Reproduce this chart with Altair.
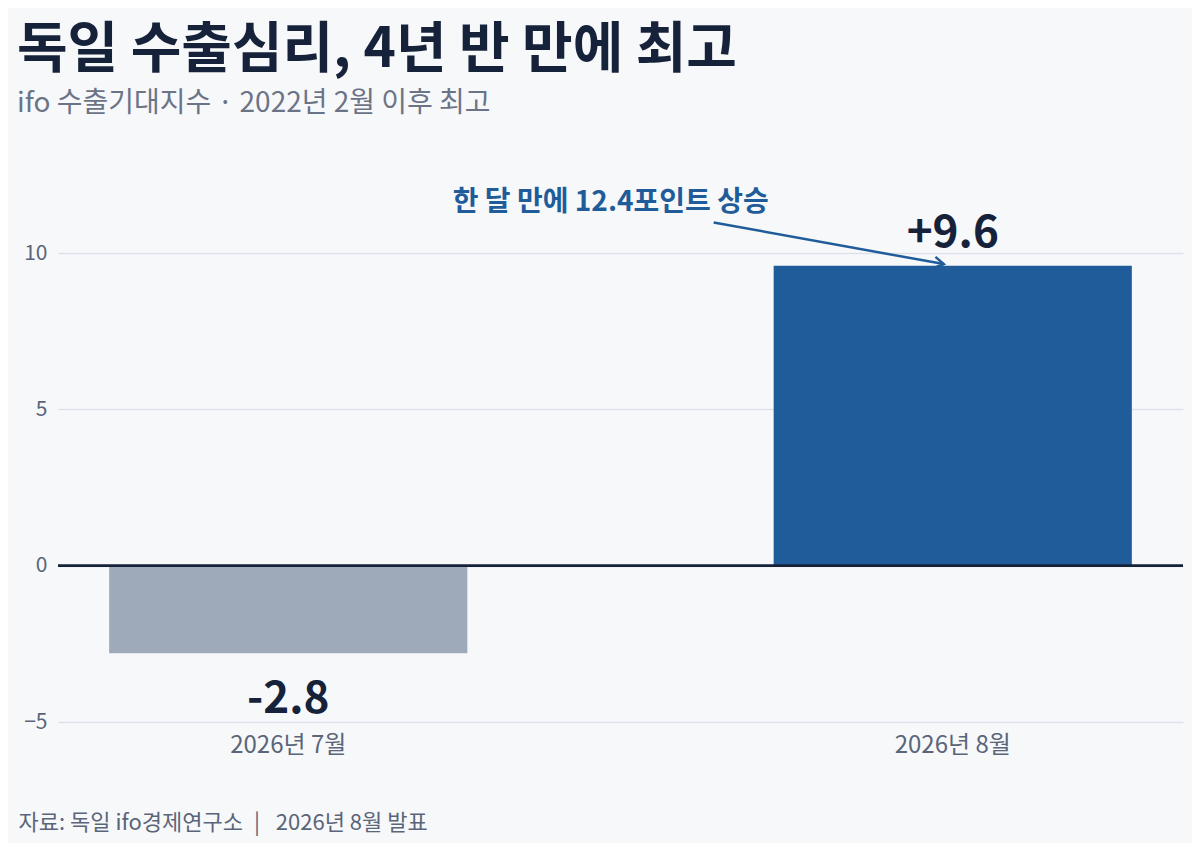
import altair as alt
import pandas as pd

# data
months = ["2026년 7월", "2026년 8월"]
values = [-2.8, 9.6]
value_labels = ["-2.8", "+9.6"]
bar_colors = ["#9ea9b9", "#1f5c99"]

anno_text = "한 달 만에 12.4포인트 상승"
anno_month = "2026년 8월"
anno_y = 11.6
arrow_from_y = 10.98
arrow_to_y = 9.65

FONT = "Noto Sans CJK KR"
NAVY = "#16223a"
GREY = "#5b6579"
BLUE = "#1f5c99"

df = pd.DataFrame({"month": months, "value": values, "label": value_labels})
anno_df = pd.DataFrame({
    "month": [anno_month], "month2": [anno_month], "text": [anno_text],
    "y": [anno_y], "y1": [arrow_from_y], "y2": [arrow_to_y],
})

x_enc = alt.X(
    "month:N",
    sort=months,
    scale=alt.Scale(paddingInner=0.461, paddingOuter=0.077),
    axis=alt.Axis(
        title="자료: 독일 ifo경제연구소\u2002|\u2002 2026년 8월 발표",
        titleFont=FONT, titleFontSize=22, titleFontWeight="normal", titleColor=GREY,
        titleAnchor="start", titleAlign="left", titleBaseline="middle",
        titleX=-40, titleY=100,
        labelFont=FONT, labelFontSize=24, labelColor=GREY, labelPadding=11,
        labelAngle=0, ticks=False, domain=False, grid=False,
    ),
)
y_scale = alt.Scale(domain=[-5, 12.5], nice=False)

base = alt.Chart(df)

bars = base.mark_bar().encode(
    x=x_enc,
    y=alt.Y(
        "value:Q",
        scale=y_scale,
        title=None,
        axis=alt.Axis(
            values=[-5, 0, 5, 10], labelFont=FONT, labelFontSize=21, labelColor=GREY,
            labelPadding=11, ticks=False, domain=False, gridColor="#dde1e9", gridWidth=1.5,
        ),
    ),
    color=alt.Color("month:N", scale=alt.Scale(domain=months, range=bar_colors), legend=None),
)

zero = base.mark_rule(color=NAVY, strokeWidth=2.5).encode(y=alt.datum(0))

pos_lbl = base.transform_filter("datum.value > 0").mark_text(
    font=FONT, fontSize=44, fontWeight="bold", color=NAVY, baseline="alphabetic", dy=-19
).encode(x=alt.X("month:N", sort=months), y="value:Q", text="label:N")

neg_lbl = base.transform_filter("datum.value < 0").mark_text(
    font=FONT, fontSize=44, fontWeight="bold", color=NAVY, baseline="alphabetic", dy=60
).encode(x=alt.X("month:N", sort=months), y="value:Q", text="label:N")

anno = alt.Chart(anno_df)
anno_txt = anno.mark_text(
    font=FONT, fontSize=28, fontWeight="bold", color=BLUE, align="right", baseline="middle", dx=-5
).encode(x=alt.X("month:N", bandPosition=0), y="y:Q", text="text:N")

# arrow starts a bit left of the August band, ends on the bar top
arrow = anno.mark_rule(color=BLUE, strokeWidth=2.5, xOffset=-60).encode(
    x=alt.X("month:N", bandPosition=0),
    x2=alt.X2("month2:N", bandPosition=0.475),
    y="y1:Q",
    y2="y2:Q",
)

head = anno.mark_point(
    shape="M-1,-0.6L0,0L-1,0.6", filled=False, color=BLUE, strokeWidth=2.5,
    size=360, angle=10, opacity=1,
).encode(x=alt.X("month:N", bandPosition=0.475), y="y2:Q")

chart = alt.layer(bars, zero, pos_lbl, neg_lbl, arrow, head, anno_txt).properties(
    width=1125,
    height=547,
    padding={"left": 9, "top": 15, "right": 7, "bottom": 10},
    background="#f7f8fa",
    title=alt.TitleParams(
        text="독일 수출심리, 4년 반 만에 최고",
        subtitle="ifo 수출기대지수 · 2022년 2월 이후 최고",
        font=FONT, fontSize=55, fontWeight="bold", color=NAVY,
        subtitleFont=FONT, subtitleFontSize=28, subtitleColor="#6b7486",
        subtitlePadding=11, anchor="start", frame="bounds", offset=56, dx=-1,
    ),
).configure_view(stroke=None)

chart.save("out.html", embed_options={"renderer": "svg", "actions": False})
